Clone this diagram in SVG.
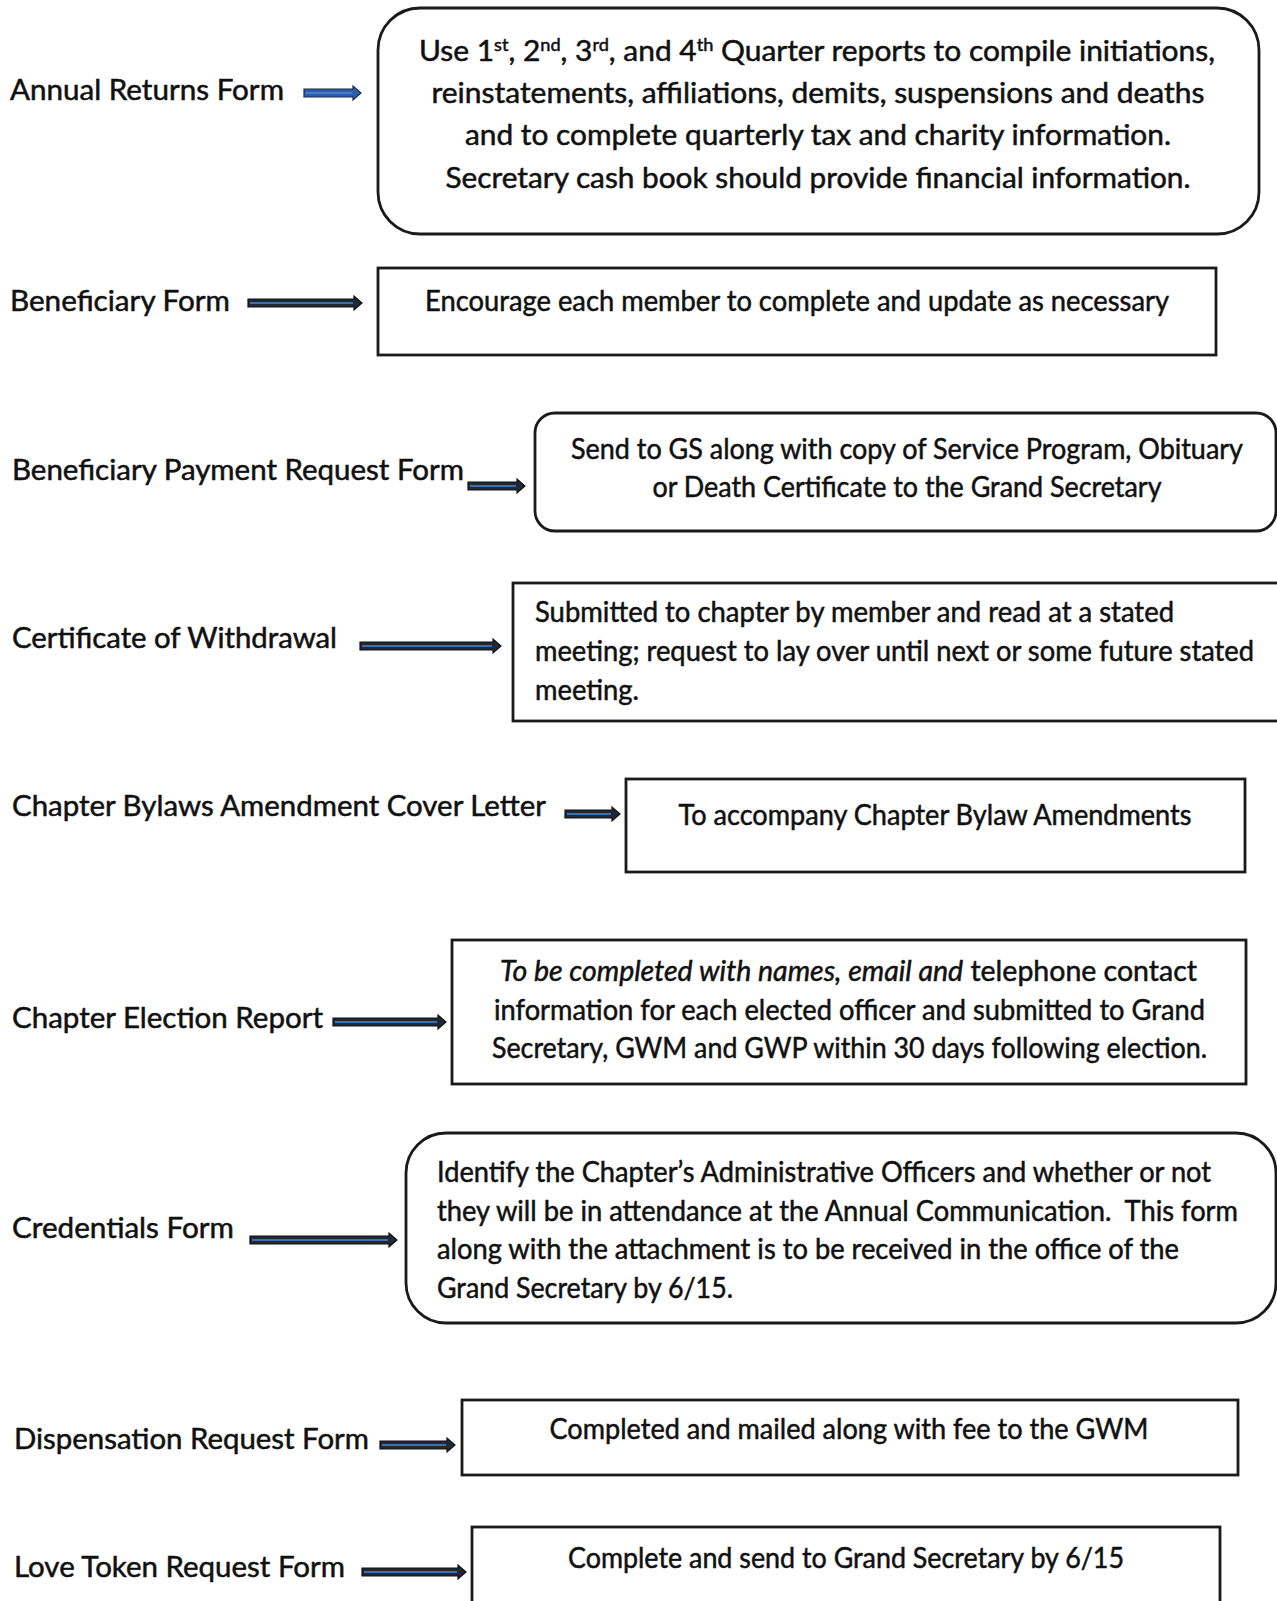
<svg xmlns="http://www.w3.org/2000/svg" width="1277" height="1601" viewBox="0 0 1277 1601">
<style>
text{font-family:Lato,"Open Sans","Liberation Sans",sans-serif;font-size:28px;fill:#111;stroke:#111;stroke-width:0.5}
.c{text-anchor:middle}
.box{fill:#fff;stroke:#1a1a1a;stroke-width:2.8}
.arr{fill:#202836;stroke:#111;stroke-width:1.2}
.arrb{fill:#2d5fa6;stroke:#1c2a55;stroke-width:1.2}
.core{stroke:#4a88d6;stroke-width:1.3}
.it{font-style:italic}
</style>
<rect width="1277" height="1601" fill="#fff"/>
<g id="connectors">
  <path class="arrb" d="M304,89 H353 V86 L361,93 L353,100 V97 H304 Z"/><line class="core" x1="306" y1="93" x2="352" y2="93"/>
  <path class="arr" d="M248,299 H354 V296 L362,303 L354,310 V307 H248 Z"/><line class="core" x1="250" y1="303" x2="353" y2="303"/>
  <path class="arr" d="M468,482 H517 V479 L525,486 L517,493 V490 H468 Z"/><line class="core" x1="470" y1="486" x2="516" y2="486"/>
  <path class="arr" d="M360,642 H493 V639 L501,646 L493,653 V650 H360 Z"/><line class="core" x1="362" y1="646" x2="492" y2="646"/>
  <path class="arr" d="M565,810 H612 V807 L620,814 L612,821 V818 H565 Z"/><line class="core" x1="567" y1="814" x2="611" y2="814"/>
  <path class="arr" d="M333,1018 H438 V1015 L446,1022 L438,1029 V1026 H333 Z"/><line class="core" x1="335" y1="1022" x2="437" y2="1022"/>
  <path class="arr" d="M250,1236 H389 V1233 L397,1240 L389,1247 V1244 H250 Z"/><line class="core" x1="252" y1="1240" x2="388" y2="1240"/>
  <path class="arr" d="M380,1441 H447 V1438 L455,1445 L447,1452 V1449 H380 Z"/><line class="core" x1="382" y1="1445" x2="446" y2="1445"/>
  <path class="arr" d="M362,1568 H458 V1565 L466,1572 L458,1579 V1576 H362 Z"/><line class="core" x1="364" y1="1572" x2="457" y2="1572"/>
</g>
<g id="n1">
  <text x="10" y="100" textLength="274" lengthAdjust="spacingAndGlyphs">Annual Returns Form</text>
  <rect class="box" x="378" y="8" width="881" height="226" rx="42"/>
  <text class="c" x="817" y="61" textLength="796" lengthAdjust="spacingAndGlyphs">Use 1<tspan font-size="17" dy="-10">st</tspan><tspan dy="10">, 2</tspan><tspan font-size="17" dy="-10">nd</tspan><tspan dy="10">, 3</tspan><tspan font-size="17" dy="-10">rd</tspan><tspan dy="10">, and 4</tspan><tspan font-size="17" dy="-10">th</tspan><tspan dy="10"> Quarter reports to compile initiations,</tspan></text>
  <text class="c" x="818" y="103" textLength="773" lengthAdjust="spacingAndGlyphs">reinstatements, affiliations, demits, suspensions and deaths</text>
  <text class="c" x="818" y="145" textLength="706" lengthAdjust="spacingAndGlyphs">and to complete quarterly tax and charity information.</text>
  <text class="c" x="818" y="188" textLength="745" lengthAdjust="spacingAndGlyphs">Secretary cash book should provide financial information.</text>
</g>
<g id="n2">
  <text x="10" y="311" textLength="220" lengthAdjust="spacingAndGlyphs">Beneficiary Form</text>
  <rect class="box" x="378" y="268" width="838" height="87"/>
  <text class="c" x="797" y="311" textLength="744" lengthAdjust="spacingAndGlyphs">Encourage each member to complete and update as necessary</text>
</g>
<g id="n3">
  <text x="12" y="480" textLength="452" lengthAdjust="spacingAndGlyphs">Beneficiary Payment Request Form</text>
  <rect class="box" x="535" y="413" width="741" height="118" rx="20"/>
  <text class="c" x="907" y="459" textLength="672" lengthAdjust="spacingAndGlyphs">Send to GS along with copy of Service Program, Obituary</text>
  <text class="c" x="907" y="497" textLength="509" lengthAdjust="spacingAndGlyphs">or Death Certificate to the Grand Secretary</text>
</g>
<g id="n4">
  <text x="12" y="648" textLength="325" lengthAdjust="spacingAndGlyphs">Certificate of Withdrawal</text>
  <rect class="box" x="513" y="583" width="780" height="138"/>
  <text x="535" y="622" textLength="639" lengthAdjust="spacingAndGlyphs">Submitted to chapter by member and read at a stated</text>
  <text x="535" y="661" textLength="719" lengthAdjust="spacingAndGlyphs">meeting; request to lay over until next or some future stated</text>
  <text x="535" y="700" textLength="104" lengthAdjust="spacingAndGlyphs">meeting.</text>
</g>
<g id="n5">
  <text x="12" y="816" textLength="534" lengthAdjust="spacingAndGlyphs">Chapter Bylaws Amendment Cover Letter</text>
  <rect class="box" x="626" y="779" width="619" height="93"/>
  <text class="c" x="935" y="825" textLength="513" lengthAdjust="spacingAndGlyphs">To accompany Chapter Bylaw Amendments</text>
</g>
<g id="n6">
  <text x="12" y="1028" textLength="311" lengthAdjust="spacingAndGlyphs">Chapter Election Report</text>
  <rect class="box" x="452" y="940" width="794" height="144"/>
  <text x="500" y="981" textLength="697" lengthAdjust="spacingAndGlyphs"><tspan class="it">To be completed with names, email and</tspan> telephone contact</text>
  <text x="494" y="1020" textLength="711" lengthAdjust="spacingAndGlyphs">information for each elected officer and submitted to Grand</text>
  <text x="492" y="1058" textLength="715" lengthAdjust="spacingAndGlyphs">Secretary, GWM and GWP within 30 days following election.</text>
</g>
<g id="n7">
  <text x="12" y="1238" textLength="222" lengthAdjust="spacingAndGlyphs">Credentials Form</text>
  <rect class="box" x="406" y="1133" width="870" height="190" rx="40"/>
  <text x="437" y="1182" textLength="774" lengthAdjust="spacingAndGlyphs">Identify the Chapter’s Administrative Officers and whether or not</text>
  <text x="437" y="1221" textLength="801" lengthAdjust="spacingAndGlyphs">they will be in attendance at the Annual Communication.&#160; This form</text>
  <text x="437" y="1259" textLength="742" lengthAdjust="spacingAndGlyphs">along with the attachment is to be received in the office of the</text>
  <text x="437" y="1298" textLength="296" lengthAdjust="spacingAndGlyphs">Grand Secretary by 6/15.</text>
</g>
<g id="n8">
  <text x="14" y="1449" textLength="355" lengthAdjust="spacingAndGlyphs">Dispensation Request Form</text>
  <rect class="box" x="462" y="1400" width="776" height="75"/>
  <text class="c" x="849" y="1439" textLength="599" lengthAdjust="spacingAndGlyphs">Completed and mailed along with fee to the GWM</text>
</g>
<g id="n9">
  <text x="14" y="1577" textLength="331" lengthAdjust="spacingAndGlyphs">Love Token Request Form</text>
  <rect class="box" x="472" y="1527" width="748" height="90"/>
  <text class="c" x="846" y="1568" textLength="556" lengthAdjust="spacingAndGlyphs">Complete and send to Grand Secretary by 6/15</text>
</g>
</svg>
